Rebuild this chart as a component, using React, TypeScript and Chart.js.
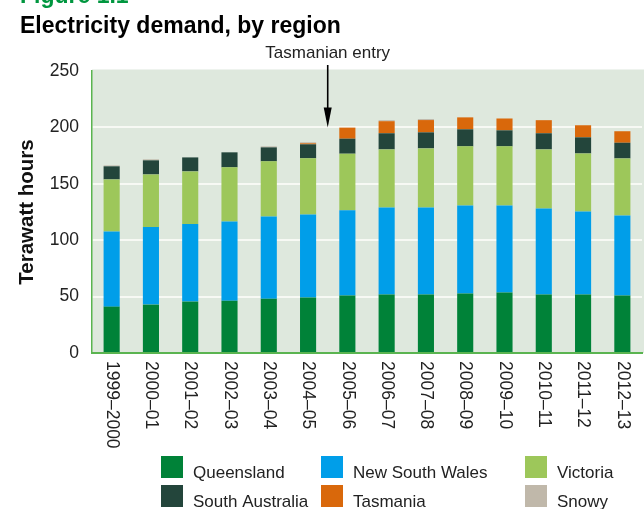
import React, { useEffect, useRef } from "react";
import { Chart, registerables } from "chart.js";

Chart.register(...registerables);

const categories = [
  "1999–2000", "2000–01", "2001–02", "2002–03", "2003–04", "2004–05", "2005–06",
  "2006–07", "2007–08", "2008–09", "2009–10", "2010–11", "2011–12", "2012–13",
];
const queensland = [41.1, 42.9, 45.6, 46.4, 48.2, 49.1, 50.9, 51.8, 51.8, 52.7, 53.6, 51.8, 51.8, 50.9];
const newSouthWales = [66.6, 68.7, 68.7, 70.2, 72.8, 73.7, 75.6, 77.2, 77.2, 78.1, 77.2, 76.3, 73.7, 71.0];
const victoria = [46.2, 46.7, 46.7, 48.0, 48.9, 49.8, 50.2, 51.5, 52.4, 52.4, 52.4, 52.4, 51.4, 50.6];
const southAustralia = [11.6, 12.5, 12.4, 13.3, 12.4, 12.4, 13.3, 14.3, 14.2, 15.1, 14.2, 14.3, 14.3, 13.9];
const tasmania = [0, 0, 0, 0, 0, 0.9, 9.8, 10.7, 10.9, 10.6, 10.5, 11.6, 10.7, 10.2];
const snowy = [0.8, 0.9, 0, 0, 0.9, 0.9, 0, 0.9, 0.9, 0, 0, 0, 0, 0];
const seriesNames = ["Queensland", "New South Wales", "Victoria", "South Australia", "Tasmania", "Snowy"];
const seriesColors = ["#008238", "#009ee9", "#9dc75a", "#23453b", "#d9680b", "#c0b8aa"];
const yMin = 0;
const yMax = 250;
const yStep = 50;
const figureLabel = "Figure 1.1";
const chartTitle = "Electricity demand, by region";
const yAxisTitle = "Terawatt hours";
const annotationText = "Tasmanian entry";

const FONT = "'Liberation Sans', Arial, Helvetica, sans-serif";
const TEXT = "#222222";
const AXIS_GREEN = "#5ab450";

const decorPlugin = {
  id: "decor",
  beforeDraw(chart: any) {
    const { ctx, chartArea } = chart;
    ctx.save();
    ctx.fillStyle = "#dee8dd";
    ctx.fillRect(chartArea.left, chartArea.top - 1.5, chart.width - chartArea.left, chartArea.bottom - chartArea.top + 1.5);
    ctx.restore();
  },
  afterDraw(chart: any) {
    const { ctx, chartArea } = chart;
    const xScale = chart.scales.x;
    const yScale = chart.scales.y;
    ctx.save();
    // Figure label (cut at top) and title
    ctx.textAlign = "left";
    ctx.textBaseline = "alphabetic";
    ctx.fillStyle = "#00963f";
    ctx.font = `bold 23px ${FONT}`;
    ctx.fillText(figureLabel, 20, 3);
    ctx.fillStyle = "#000000";
    ctx.fillText(chartTitle, 20, 33);

    // x tick labels rotated clockwise
    ctx.fillStyle = TEXT;
    ctx.font = `17.5px ${FONT}`;
    categories.forEach((label, i) => {
      const x = xScale.getPixelForTick(i);
      ctx.save();
      ctx.translate(x, chartArea.bottom + 8);
      ctx.rotate(Math.PI / 2);
      ctx.textAlign = "left";
      ctx.textBaseline = "middle";
      ctx.fillText(label, 0, 0);
      ctx.restore();
    });

    // annotation
    const ax = xScale.getPixelForValue(5.5);
    const tipY = yScale.getPixelForValue(200);
    ctx.font = `17px ${FONT}`;
    ctx.textAlign = "center";
    ctx.textBaseline = "alphabetic";
    ctx.fillStyle = TEXT;
    ctx.fillText(annotationText, ax, 58);
    ctx.strokeStyle = "#000000";
    ctx.lineWidth = 1.6;
    ctx.beginPath();
    ctx.moveTo(ax, 65);
    ctx.lineTo(ax, tipY - 16);
    ctx.stroke();
    ctx.fillStyle = "#000000";
    ctx.beginPath();
    ctx.moveTo(ax - 4, tipY - 20);
    ctx.lineTo(ax + 4, tipY - 20);
    ctx.lineTo(ax, tipY);
    ctx.closePath();
    ctx.fill();

    // legend
    const colX = [161, 321, 525];
    const rowY = [456, 485];
    ctx.font = `17px ${FONT}`;
    ctx.textAlign = "left";
    ctx.textBaseline = "alphabetic";
    chart.data.datasets.forEach((ds: any, i: number) => {
      const col = i % 3;
      const row = Math.floor(i / 3);
      const bx = colX[col];
      const by = rowY[row];
      ctx.fillStyle = ds.backgroundColor;
      ctx.fillRect(bx, by, 22, 22);
      ctx.fillStyle = TEXT;
      ctx.fillText(ds.label, bx + 32, by + 22);
    });
    ctx.restore();
  },
};

export default function App() {
  const canvasRef = useRef<HTMLCanvasElement | null>(null);

  useEffect(() => {
    if (!canvasRef.current) return;
    const seriesData = [queensland, newSouthWales, victoria, southAustralia, tasmania, snowy];
    const chart = new Chart(canvasRef.current, {
      type: "bar",
      data: {
        labels: categories,
        datasets: seriesData.map((d, i) => ({
          label: seriesNames[i],
          data: d,
          backgroundColor: seriesColors[i],
          borderWidth: 0,
          barPercentage: 0.41,
          categoryPercentage: 1,
        })),
      },
      options: {
        animation: false,
        responsive: false,
        maintainAspectRatio: false,
        devicePixelRatio: 1,
        layout: { padding: { top: 71, right: 2, left: 0, bottom: 0 } },
        plugins: {
          legend: { display: false },
          tooltip: { enabled: false },
        },
        scales: {
          x: {
            stacked: true,
            grid: { display: false, drawTicks: false },
            ticks: { display: false },
            border: { display: true, color: AXIS_GREEN, width: 2 },
            afterFit: (s: any) => {
              s.height = 156;
            },
          },
          y: {
            stacked: true,
            min: yMin,
            max: yMax,
            ticks: {
              stepSize: yStep,
              padding: 13,
              color: TEXT,
              font: { family: FONT, size: 17.5 },
            },
            grid: {
              drawTicks: false,
              lineWidth: 2,
              color: (c: any) =>
                c.tick && (c.tick.value === yMax || c.tick.value === yMin) ? "rgba(0,0,0,0)" : "#f7f9f4",
            },
            border: { display: true, color: AXIS_GREEN, width: 1.5 },
            title: {
              display: true,
              text: yAxisTitle,
              color: "#111111",
              font: { family: FONT, size: 20.5, weight: "bold" },
              padding: { top: 15, bottom: 0 },
            },
            afterFit: (s: any) => {
              s.width = 92;
            },
          },
        },
      },
      plugins: [decorPlugin],
    } as any);
    return () => chart.destroy();
  }, []);

  return (
    <div style={{ position: "fixed", left: 0, top: 0, width: 644, height: 509, background: "#ffffff" }}>
      <canvas ref={canvasRef} width={644} height={509} style={{ width: 644, height: 509, display: "block" }} />
    </div>
  );
}
